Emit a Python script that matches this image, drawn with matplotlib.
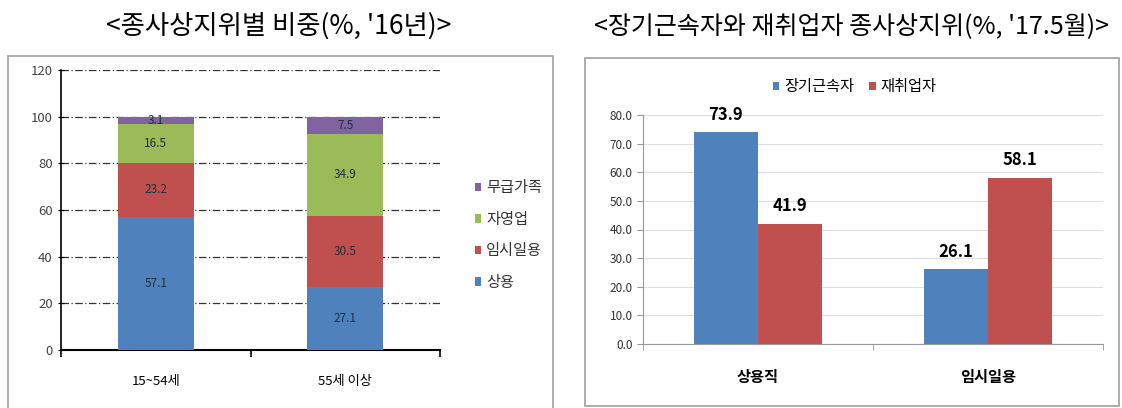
import matplotlib.pyplot as plt
from matplotlib.patches import Rectangle
import numpy as np

plt.rcParams['font.family'] = ['Noto Sans CJK KR', 'DejaVu Sans']

# left chart data
age_groups = ['15~54세', '55세 이상']
status_names = ['상용', '임시일용', '자영업', '무급가족']
sangyong = [57.1, 27.1]
imsi = [23.2, 30.5]
jayoung = [16.5, 34.9]
mugeup = [3.1, 7.5]

# right chart data
job_types = ['상용직', '임시일용']
long_term = [73.9, 26.1]
reemployed = [41.9, 58.1]

BLUE = '#4F81BD'
RED = '#C0504D'
GREEN = '#9BBB59'
PURPLE = '#8064A2'

W, H = 1122, 408
fig = plt.figure(figsize=(W / 100, H / 100), dpi=100)

def px_axes(x0, y0, x1, y1):
    return fig.add_axes([x0 / W, 1 - y1 / H, (x1 - x0) / W, (y1 - y0) / H])

# panel frames
fig.add_artist(Rectangle((8 / W, -0.01), (553 - 8) / W, 1 - 56 / H + 0.01,
                         transform=fig.transFigure, fill=False, ec='#a0a0a0', lw=1.2))
fig.add_artist(Rectangle((585 / W, 2 / H), (1119 - 585) / W, 1 - 58 / H - 2 / H,
                         transform=fig.transFigure, fill=False, ec='#a0a0a0', lw=1.2))

fig.text(279 / W, 1 - 26 / H, "<종사상지위별 비중(%, '16년)>", ha='center', va='center',
         fontsize=19)
fig.text(852 / W, 1 - 26 / H, "<장기근속자와 재취업자 종사상지위(%, '17.5월)>", ha='center',
         va='center', fontsize=18)

# ---- left stacked chart
ax1 = px_axes(61, 70, 440, 350)
x = np.arange(len(age_groups))
bw = 0.40
series = [sangyong, imsi, jayoung, mugeup]
colors = [BLUE, RED, GREEN, PURPLE]
bottom = np.zeros(len(age_groups))
handles = []
for vals, col, name in zip(series, colors, status_names):
    b = ax1.bar(x, vals, bw, bottom=bottom, color=col, label=name, zorder=3)
    handles.append(b)
    for xi, v, b0 in zip(x, vals, bottom):
        ax1.text(xi, b0 + v / 2, f'{v}', ha='center', va='center', fontsize=8.5,
                 color='#1f2f3f', zorder=4)
    bottom = bottom + np.array(vals)

ax1.set_xlim(-0.5, 1.5)
ax1.set_ylim(0, 120)
ax1.set_yticks(range(0, 121, 20))
ax1.set_xticks(x)
ax1.set_xticklabels(age_groups, fontsize=9.5)
ax1.set_xticks([-0.5, 0.5, 1.5], minor=True)
ax1.tick_params(axis='x', which='major', length=0, pad=18)
ax1.tick_params(axis='x', which='minor', length=5, width=1.2)
ax1.tick_params(axis='y', labelsize=9.5, length=5, direction='inout', labelcolor='#444444')
ax1.yaxis.grid(True, color='#333333', linestyle=(0, (6, 2, 1, 2)), lw=0.9, zorder=0)
for s in ['top', 'right']:
    ax1.spines[s].set_visible(False)
ax1.spines['left'].set_linewidth(1.2)
ax1.spines['bottom'].set_linewidth(1.5)
ax1.legend(handles[::-1], status_names[::-1], loc='center left', bbox_to_anchor=(1.055, 0.41),
           frameon=False, fontsize=11, handlelength=0.45, handleheight=0.45,
           handletextpad=0.3, labelspacing=0.95, labelcolor='#333333')

# ---- right grouped chart
ax2 = px_axes(643, 115, 1103, 344)
x2 = np.arange(len(job_types))
bw2 = 0.28
b1 = ax2.bar(x2 - bw2 / 2, long_term, bw2, color=BLUE, label='장기근속자', zorder=3)
b2 = ax2.bar(x2 + bw2 / 2, reemployed, bw2, color=RED, label='재취업자', zorder=3)
for bars, vals in [(b1, long_term), (b2, reemployed)]:
    for r, v in zip(bars, vals):
        ax2.text(r.get_x() + r.get_width() / 2, v + 3, f'{v}', ha='center', va='bottom',
                 fontsize=12, fontweight='bold')
ax2.set_xlim(-0.5, 1.5)
ax2.set_ylim(0, 80)
ax2.set_yticks(range(0, 81, 10))
ax2.set_yticklabels([f'{t:.1f}' for t in range(0, 81, 10)], fontsize=8.5)
ax2.set_xticks(x2)
ax2.set_xticklabels(job_types, fontsize=11, fontweight='bold')
ax2.set_xticks([-0.5, 0.5, 1.5], minor=True)
ax2.tick_params(axis='x', which='major', length=0, pad=18)
ax2.tick_params(axis='x', which='minor', length=4, color='#999999')
ax2.tick_params(axis='y', length=4, color='#999999', labelcolor='#333333')
ax2.yaxis.grid(True, color='#dedede', lw=0.8, zorder=0)
for s in ['top', 'right']:
    ax2.spines[s].set_visible(False)
ax2.spines['left'].set_color('#999999')
ax2.spines['bottom'].set_color('#999999')
ax2.legend(loc='center', bbox_to_anchor=(0.46, 1 + 28 / 229), ncol=2, frameon=False,
           fontsize=11, handlelength=0.45, handleheight=0.45, handletextpad=0.3,
           columnspacing=1.0)

fig.savefig('out.png', dpi=100)
